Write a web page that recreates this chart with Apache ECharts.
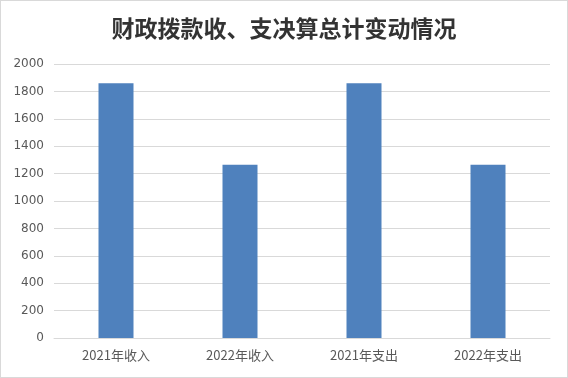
<!DOCTYPE html>
<html>
<head>
<meta charset="utf-8">
<script src="https://cdn.jsdelivr.net/npm/echarts@6/dist/echarts.min.js"></script>
<style>
  html, body { margin: 0; padding: 0; background: #fff; }
  #main { width: 566px; height: 376px; border: 1px solid #d9d9d9; }
</style>
</head>
<body>
<div id="main"></div>
<script>
// 数据
var categories = ['2021年收入', '2022年收入', '2021年支出', '2022年支出'];
var amounts = [1860, 1265, 1860, 1265];
var yTicks = [0, 200, 400, 600, 800, 1000, 1200, 1400, 1600, 1800, 2000];

var myChart = echarts.init(document.getElementById('main'));
myChart.setOption({
    animation: false,
    title: {
        text: '财政拨款收、支决算总计变动情况',
        left: 'center',
        top: 11,
        textStyle: {
            fontFamily: 'Noto Sans CJK SC',
            fontSize: 23,
            fontWeight: 'bold',
            color: '#333333'
        }
    },
    grid: {
        left: 53,
        right: 17,
        top: 63,
        bottom: 39
    },
    xAxis: {
        type: 'category',
        data: categories,
        axisLine: { lineStyle: { color: '#d9d9d9' } },
        axisTick: { show: false },
        axisLabel: {
            color: '#595959',
            fontSize: 13,
            margin: 11,
            fontFamily: 'Noto Sans CJK SC'
        }
    },
    yAxis: {
        type: 'value',
        min: yTicks[0],
        max: yTicks[yTicks.length - 1],
        interval: yTicks[1] - yTicks[0],
        axisLine: { show: false },
        axisTick: { show: false },
        axisLabel: {
            color: '#595959',
            fontSize: 12,
            margin: 10,
            fontFamily: 'DejaVu Sans',
            formatter: function (v) { return String(v); }
        },
        splitLine: { lineStyle: { color: '#d9d9d9' } }
    },
    series: [{
        type: 'bar',
        data: amounts,
        barWidth: 35,
        itemStyle: { color: '#4f81bd' }
    }]
});
</script>
</body>
</html>
